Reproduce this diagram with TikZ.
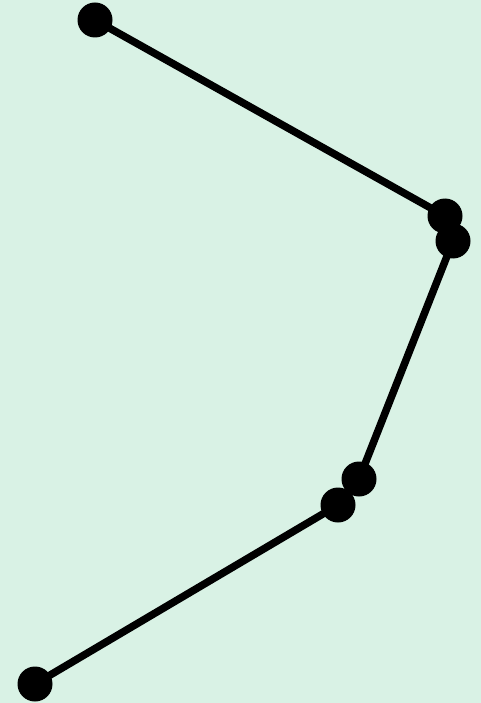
\documentclass[tikz,border=0pt]{standalone}
\definecolor{mint}{RGB}{217,242,229}
\begin{document}
\begin{tikzpicture}[x=1pt, y=-1pt,
  link/.style={line width=7.5pt},
  every node/.style={circle, fill=black, minimum size=35pt, inner sep=0pt}]
  
  \fill[mint] (0,0) rectangle (481,703);
  \useasboundingbox (0,0) rectangle (481,703);
  \draw[link] (95,20) coordinate (c1) -- (445,216) coordinate (c2);
  \draw[link] (453,241) coordinate (c3) -- (359,479) coordinate (c4);
  \draw[link] (338,505) coordinate (c5) -- (35,684) coordinate (c6);
  \foreach \c in {1,...,6}
    \node (p\c) at (c\c) {};
\end{tikzpicture}
\end{document}
